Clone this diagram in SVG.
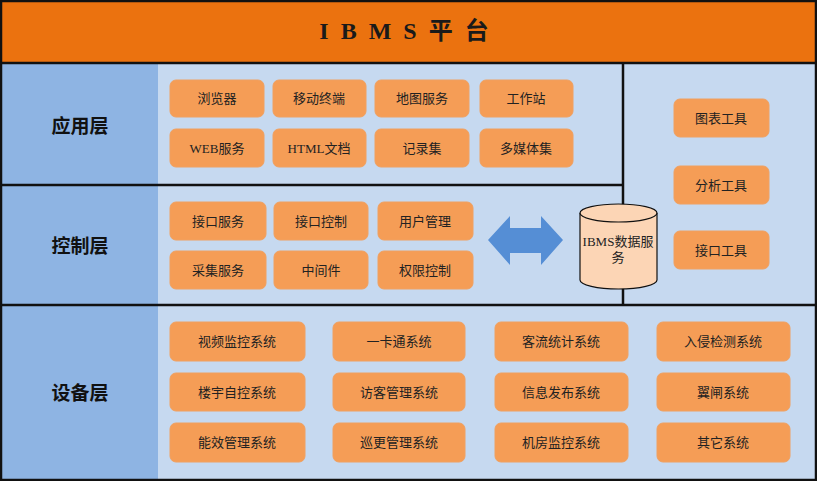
<svg xmlns="http://www.w3.org/2000/svg" width="817" height="481" viewBox="0 0 817 481">
<style>
.b{fill:#f59d56;stroke:#f0a060;stroke-width:1}
.t{font-family:"Liberation Serif","Noto Sans CJK SC",serif;font-size:13px;fill:#222;text-anchor:middle;dominant-baseline:central}
.l{font-family:"Noto Sans CJK SC",sans-serif;font-size:19px;font-weight:bold;fill:#111;text-anchor:middle;dominant-baseline:central}
.ln{stroke:#111;stroke-width:2.5;fill:none}
</style>
<rect x="0" y="0" width="817" height="481" fill="#c6d9f0"/>
<rect x="0" y="0" width="817" height="63" fill="#eb720f"/>
<text x="410" y="31" font-family="Liberation Serif,Noto Sans CJK SC,serif" font-size="24" font-weight="bold" letter-spacing="12" text-anchor="middle" dominant-baseline="central" fill="#1a1a1a">IBMS平台</text>
<rect x="0" y="63" width="158" height="418" fill="#8eb4e3"/>
<g id="layers" class="ln">
<rect x="1" y="1" width="815" height="479"/>
<line x1="0" y1="63" x2="817" y2="63"/>
<line x1="0" y1="185" x2="623" y2="185"/>
<line x1="0" y1="305" x2="817" y2="305"/>
<line x1="623" y1="63" x2="623" y2="305"/>
</g>
<g id="app"><text class="l" x="80" y="124">应用层</text></g>
<g id="ctl"><text class="l" x="80" y="244">控制层</text></g>
<g id="dev"><text class="l" x="80" y="391">设备层</text></g>
<g id="appboxes">
<rect class="b" x="170" y="80" width="94" height="37" rx="6"/><text class="t" x="217" y="98">浏览器</text>
<rect class="b" x="273" y="80" width="93" height="37" rx="6"/><text class="t" x="319" y="98">移动终端</text>
<rect class="b" x="375" y="80" width="94" height="37" rx="6"/><text class="t" x="422" y="98">地图服务</text>
<rect class="b" x="480" y="80" width="93" height="37" rx="6"/><text class="t" x="526" y="98">工作站</text>
<rect class="b" x="170" y="129" width="94" height="38" rx="6"/><text class="t" x="217" y="148">WEB服务</text>
<rect class="b" x="273" y="129" width="93" height="38" rx="6"/><text class="t" x="319" y="148">HTML文档</text>
<rect class="b" x="375" y="129" width="94" height="38" rx="6"/><text class="t" x="422" y="148">记录集</text>
<rect class="b" x="480" y="129" width="93" height="38" rx="6"/><text class="t" x="526" y="148">多媒体集</text>
</g>
<g id="ctlboxes">
<rect class="b" x="170" y="202" width="96" height="38" rx="6"/><text class="t" x="218" y="221">接口服务</text>
<rect class="b" x="274" y="202" width="94" height="38" rx="6"/><text class="t" x="321" y="221">接口控制</text>
<rect class="b" x="378" y="202" width="95" height="38" rx="6"/><text class="t" x="425" y="221">用户管理</text>
<rect class="b" x="170" y="251" width="96" height="38" rx="6"/><text class="t" x="218" y="270">采集服务</text>
<rect class="b" x="274" y="251" width="94" height="38" rx="6"/><text class="t" x="321" y="270">中间件</text>
<rect class="b" x="378" y="251" width="95" height="38" rx="6"/><text class="t" x="425" y="270">权限控制</text>
</g>
<g id="tools">
<rect class="b" x="674" y="99" width="95" height="38" rx="6"/><text class="t" x="721" y="118">图表工具</text>
<rect class="b" x="674" y="166" width="95" height="38" rx="6"/><text class="t" x="721" y="185">分析工具</text>
<rect class="b" x="674" y="231" width="95" height="38" rx="6"/><text class="t" x="721" y="250">接口工具</text>
</g>
<g id="connectors">
<polygon points="488,240 510,216 510,228 541,228 541,216 563,240 541,265 541,253 510,253 510,265" fill="#558ed5"/>
</g>
<g id="db">
<path d="M580,213 V280 A38.5,9 0 0 0 657,280 V213" fill="#fcd5b5" stroke="#111" stroke-width="1.2"/>
<ellipse cx="618.5" cy="213" rx="38.5" ry="9" fill="#fcd5b5" stroke="#111" stroke-width="1.2"/>
<text class="t" x="618" y="241">IBMS数据服</text>
<text class="t" x="618" y="257">务</text>
</g>
<g id="devboxes">
<rect class="b" x="170" y="322" width="135" height="39" rx="6"/><text class="t" x="237" y="341">视频监控系统</text>
<rect class="b" x="333" y="322" width="132" height="39" rx="6"/><text class="t" x="399" y="341">一卡通系统</text>
<rect class="b" x="495" y="322" width="133" height="39" rx="6"/><text class="t" x="561" y="341">客流统计系统</text>
<rect class="b" x="657" y="322" width="133" height="39" rx="6"/><text class="t" x="723" y="341">入侵检测系统</text>
<rect class="b" x="170" y="373" width="135" height="38" rx="6"/><text class="t" x="237" y="392">楼宇自控系统</text>
<rect class="b" x="333" y="373" width="132" height="38" rx="6"/><text class="t" x="399" y="392">访客管理系统</text>
<rect class="b" x="495" y="373" width="133" height="38" rx="6"/><text class="t" x="561" y="392">信息发布系统</text>
<rect class="b" x="657" y="373" width="133" height="38" rx="6"/><text class="t" x="723" y="392">翼闸系统</text>
<rect class="b" x="170" y="423" width="135" height="39" rx="6"/><text class="t" x="237" y="442">能效管理系统</text>
<rect class="b" x="333" y="423" width="132" height="39" rx="6"/><text class="t" x="399" y="442">巡更管理系统</text>
<rect class="b" x="495" y="423" width="133" height="39" rx="6"/><text class="t" x="561" y="442">机房监控系统</text>
<rect class="b" x="657" y="423" width="133" height="39" rx="6"/><text class="t" x="723" y="442">其它系统</text>
</g>
</svg>
